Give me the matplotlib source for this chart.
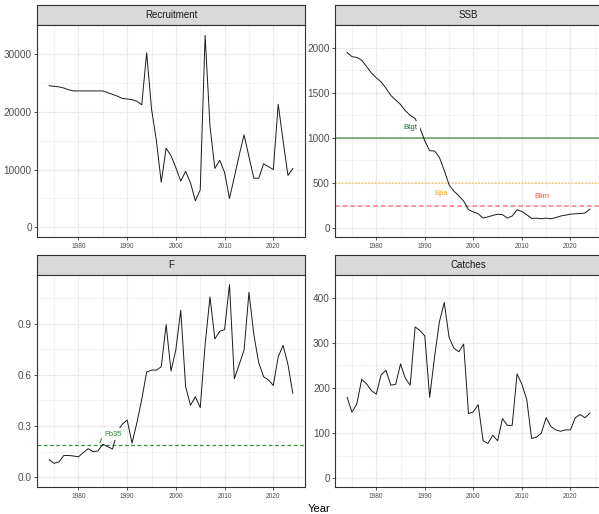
import matplotlib
matplotlib.use('Agg')
import matplotlib.pyplot as plt

plt.rcParams['font.family'] = ['Liberation Sans', 'DejaVu Sans']

# ---- dados ----
anos = list(range(1974, 2025))

recrutamento = [24500, 24400, 24300, 24100, 23800, 23600, 23600, 23600, 23600, 23600,
                23600, 23600, 23300, 23000, 22700, 22300, 22200, 22100, 21800, 21200,
                30200, 20500, 15000, 7800, 13700, 12400, 10300, 8000, 9700, 7700,
                4600, 6500, 33200, 17500, 10200, 11600, 9500, 5000, 8700, 12500,
                16000, 12200, 8500, 8500, 11000, 10500, 10000, 21300, 15000, 9000,
                10200]

ssb = [1945, 1900, 1890, 1860, 1790, 1720, 1665, 1620, 1550, 1470,
       1420, 1370, 1300, 1250, 1215, 1110, 965, 858, 855, 785,
       640, 480, 410, 360, 300, 205, 180, 160, 112, 125,
       142, 155, 150, 112, 135, 205, 185, 150, 108, 112,
       105, 112, 105, 118, 135, 145, 155, 160, 163, 168,
       212]

mortalidade_f = [0.103, 0.082, 0.090, 0.128, 0.128, 0.125, 0.120, 0.145, 0.168, 0.150,
                 0.155, 0.194, 0.180, 0.166, 0.270, 0.310, 0.336, 0.200, 0.320, 0.457,
                 0.616, 0.628, 0.628, 0.647, 0.894, 0.622, 0.748, 0.978, 0.531, 0.422,
                 0.472, 0.408, 0.778, 1.056, 0.810, 0.855, 0.865, 1.128, 0.577, 0.661,
                 0.745, 1.083, 0.836, 0.671, 0.589, 0.570, 0.538, 0.706, 0.772, 0.661,
                 0.492]

capturas = [179, 146, 165, 219, 209, 194, 186, 229, 239, 206,
            208, 253, 221, 206, 335, 327, 315, 179, 268, 346,
            389, 312, 288, 280, 297, 143, 147, 163, 83, 77,
            95, 83, 132, 117, 117, 231, 208, 174, 88, 91,
            100, 134, 114, 107, 104, 107, 107, 134, 141, 134,
            144]

# pontos de referencia
b_tgt = 1000
b_pa = 500
b_lim = 250
f_b35 = 0.19

anos_ticks = [1980, 1990, 2000, 2010, 2020]
anos_minor = [1975, 1985, 1995, 2005, 2015, 2025]

W, H = 599, 514
fig = plt.figure(figsize=(W / 100, H / 100), dpi=100)


def caixa(x0, y0, x1, y1):
    # pixels (origem no topo) -> fracao da figura
    return [x0 / W, 1 - y1 / H, (x1 - x0) / W, (y1 - y0) / H]


def painel(x0, y0, x1, y1, titulo, valores, yticks, ylabels):
    # faixa do titulo (strip do ggplot)
    st = fig.add_axes(caixa(x0, y0 - 20, x1, y0))
    st.set_facecolor('#D9D9D9')
    st.set_xticks([])
    st.set_yticks([])
    for s in st.spines.values():
        s.set_color('#333333')
        s.set_linewidth(0.8)
    st.text(0.5, 0.5, titulo, ha='center', va='center', fontsize=7,
            color='#1A1A1A', transform=st.transAxes)

    ax = fig.add_axes(caixa(x0, y0, x1, y1))
    ax.plot(anos, valores, color='#1A1A1A', linewidth=0.7, zorder=2)

    lo = min(0, min(valores))
    hi = max(valores)
    d = hi - lo
    ax.set_ylim(lo - 0.05 * d, hi + 0.05 * d)
    ax.set_xlim(1971.5, 2026.5)

    ax.set_xticks(anos_ticks)
    ax.set_xticklabels([str(a) for a in anos_ticks])
    ax.set_xticks(anos_minor, minor=True)
    ax.set_yticks(yticks)
    ax.set_yticklabels(ylabels)
    meios = [(yticks[i] + yticks[i + 1]) / 2 for i in range(len(yticks) - 1)]
    meios.append(yticks[-1] + (yticks[1] - yticks[0]) / 2)
    ax.set_yticks(meios, minor=True)

    ax.grid(which='major', color='#EBEBEB', linewidth=0.9, zorder=0)
    ax.grid(which='minor', color='#EBEBEB', linewidth=0.45, zorder=0)
    ax.set_axisbelow(True)

    ax.tick_params(axis='x', which='major', labelsize=4.8, colors='#333333',
                   labelcolor='#4D4D4D', length=2.2, width=0.6, pad=2)
    ax.tick_params(axis='y', which='major', labelsize=7.2, colors='#333333',
                   labelcolor='#4D4D4D', length=2.2, width=0.6, pad=1.5)
    ax.tick_params(which='minor', length=0)
    for s in ax.spines.values():
        s.set_color('#333333')
        s.set_linewidth(0.8)
    return ax


caixa_label = dict(boxstyle='square,pad=0.35', facecolor='white', edgecolor='none')
caixa_bpa = dict(boxstyle='square,pad=0.2', facecolor='white', edgecolor='none')

ax1 = painel(37, 25, 305, 237, 'Recruitment', recrutamento,
             [0, 10000, 20000, 30000], ['0', '10000', '20000', '30000'])

ax2 = painel(335, 25, 602, 237, 'SSB', ssb,
             [0, 500, 1000, 1500, 2000], ['0', '500', '1000', '1500', '2000'])
ax2.axhline(b_tgt, color='darkgreen', alpha=0.5, linewidth=1.3, zorder=1.5)
ax2.axhline(b_pa, color='orange', alpha=0.5, linewidth=1.2, linestyle=(0, (1, 1)), zorder=1.5)
ax2.axhline(b_lim, color='red', alpha=0.5, linewidth=1.1, linestyle=(0, (3, 2)), zorder=1.5)
ax2.text(1987.0, 1115, 'Btgt', fontsize=5.6, color='#1E6B3A', ha='center', va='center',
         bbox=caixa_label, zorder=3)
ax2.text(1993.4, 387, 'Bpa', fontsize=5.6, color='#F5A623', ha='center', va='center',
         bbox=caixa_bpa, zorder=3)
ax2.text(2014.2, 354, 'Blim', fontsize=5.6, color='#FF4A4A', ha='center', va='center',
         bbox=caixa_label, zorder=3)

ax3 = painel(37, 275, 305, 487, 'F', mortalidade_f,
             [0.0, 0.3, 0.6, 0.9], ['0.0', '0.3', '0.6', '0.9'])
ax3.axhline(f_b35, color='darkgreen', alpha=0.75, linewidth=0.9, linestyle=(0, (3, 2)), zorder=1.5)
ax3.plot([1984.4, 1984.75], [0.203, 0.228], color='#3A8A3A', linewidth=0.7, zorder=2.5)
ax3.text(1987.2, 0.253, 'Fb35', fontsize=5.6, color='#2E8B3E', ha='center', va='center',
         bbox=caixa_label, zorder=3)

ax4 = painel(335, 275, 602, 487, 'Catches', capturas,
             [0, 100, 200, 300, 400], ['0', '100', '200', '300', '400'])

fig.text(319 / W, 1 - 509 / H, 'Year', ha='center', va='center', fontsize=8, color='black')

fig.savefig('out.png', dpi=100)
